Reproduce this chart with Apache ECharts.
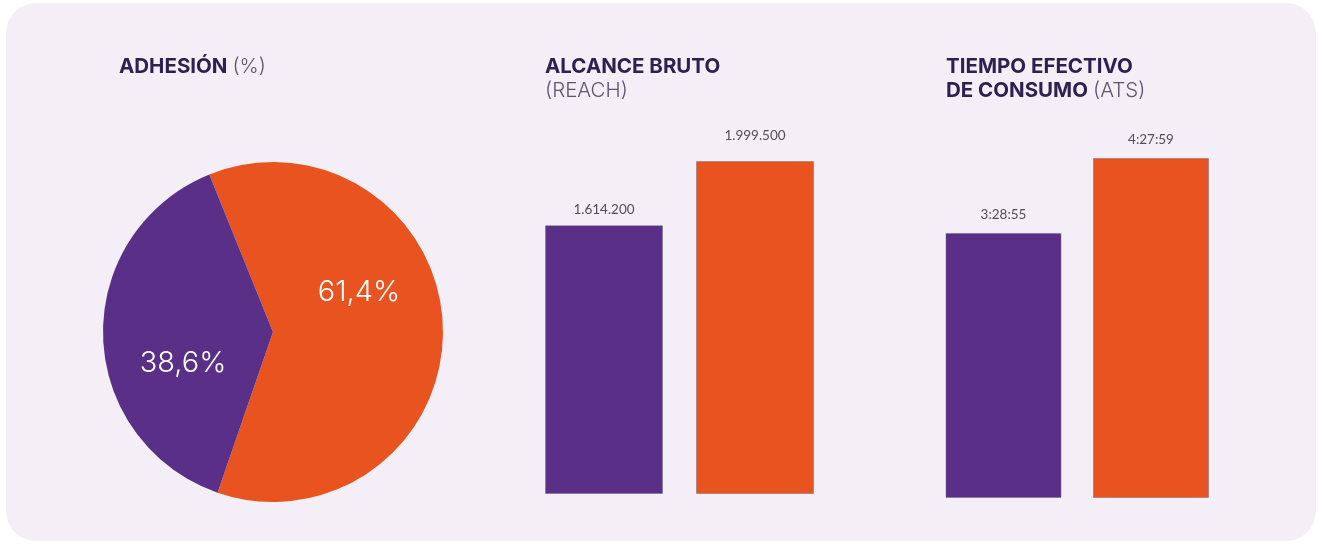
<!DOCTYPE html>
<html>
<head>
<meta charset="utf-8">
<script src="https://cdn.jsdelivr.net/npm/echarts@6/dist/echarts.min.js"></script>
<style>
    html, body { margin: 0; padding: 0; background: #ffffff; }
    #panel { position: absolute; left: 6px; top: 3px; width: 1310px; height: 538px; background: #f4eff6; border-radius: 30px; }
    #chart { position: absolute; left: 0; top: 0; width: 1318px; height: 544px; }
</style>
</head>
<body>
<div id="panel"></div>
<div id="chart"></div>
<script>

// adhesion (%)
var pieNames = ['Adhesión', 'Resto'];
var pieValues = [61.4, 38.6];

// alcance bruto (reach)
var reachCats = ['A', 'B'];
var reachValues = [1614200, 1999500];

// tiempo efectivo de consumo (ats)
var atsCats = ['A', 'B'];
var atsTimes = ['3:28:55', '4:27:59'];

(function() {

    // colours
    var purple = '#5a2f88',
        orange = '#e8531f',
        ink = '#2d2150',
        soft = '#5d5470',
        font = 'Inter',
        numFont = 'Lato';

    // h:mm:ss -> seconds
    var toSec = function( /* text */ t) {
        var p = t.split(':');
        return (+p[0]) * 3600 + (+p[1]) * 60 + (+p[2]);
    };

    var toTime = function( /* seconds */ s) {
        var h = Math.floor(s / 3600),
            m = Math.floor((s % 3600) / 60),
            x = s % 60;
        return h + ':' + (m < 10 ? '0' : '') + m + ':' + (x < 10 ? '0' : '') + x;
    };

    // 1614200 -> 1.614.200
    var dots = function( /* number */ n) {
        return String(n).replace(/\B(?=(\d{3})+(?!\d))/g, '.');
    };

    var atsValues = atsTimes.map(toSec);

    // title styles
    var rich = {
        b: { fontFamily: font, fontWeight: 'bold', fontSize: 20.5, color: ink, lineHeight: 24 },
        l: { fontFamily: font, fontWeight: 300, fontSize: 20.5, color: soft, lineHeight: 24 }
    };

    // bar label
    var barLabel = function(fmt, dist) {
        return {
            show: true,
            position: 'top',
            distance: dist,
            fontFamily: numFont,
            fontSize: 13.5,
            color: '#505050',
            formatter: fmt
        };
    };

    var option = {

        animation: false,
        backgroundColor: 'transparent',

        // titles
        title: [{
            left: 114, top: 50,
            text: '{b|ADHESIÓN} {l|(%)}',
            textStyle: { rich: rich }
        }, {
            left: 540, top: 50,
            text: '{b|ALCANCE BRUTO}\n{l|(REACH)}',
            textStyle: { rich: rich }
        }, {
            left: 941, top: 50,
            text: '{b|TIEMPO EFECTIVO}\n{b|DE CONSUMO} {l|(ATS)}',
            textStyle: { rich: rich }
        }],

        // grids
        grid: [
            { left: 528.5, width: 302, top: 161, height: 333 },
            { left: 929.75, width: 295, top: 117.4, height: 380.6 }
        ],

        xAxis: [
            { gridIndex: 0, type: 'category', data: reachCats, show: false },
            { gridIndex: 1, type: 'category', data: atsCats, show: false }
        ],

        yAxis: [
            { gridIndex: 0, type: 'value', min: 0, max: 2000000, show: false, splitLine: { show: false } },
            { gridIndex: 1, type: 'value', min: 0, max: 18000, show: false, splitLine: { show: false } }
        ],

        series: [{

            // pie
            type: 'pie',
            center: [273, 332],
            radius: 170,
            startAngle: 112,
            clockwise: true,
            silent: true,
            data: pieValues.map(function(v, i) {
                return { name: pieNames[i], value: v, itemStyle: { color: i ? purple : orange } };
            }),
            label: {
                show: true,
                position: 'inside',
                fontFamily: font,
                fontWeight: 300,
                fontSize: 29,
                color: '#ffffff',
                formatter: function(p) { return String(p.value).replace('.', ',') + '%'; }
            },
            labelLine: { show: false },
            labelLayout: function(p) {
                return { dx: p.dataIndex ? -2 : -2, dy: p.dataIndex ? 29 : -37 };
            }

        }, {

            // reach
            type: 'bar',
            xAxisIndex: 0,
            yAxisIndex: 0,
            barWidth: 118,
            data: reachValues.map(function(v, i) {
                return { value: v, itemStyle: { color: i ? orange : purple }, label: { distance: i ? 18 : 9 } };
            }),
            itemStyle: { borderColor: 'rgba(110,100,120,0.45)', borderWidth: 1 },
            label: barLabel(function(p) { return dots(p.value); }, 9)

        }, {

            // ats
            type: 'bar',
            xAxisIndex: 1,
            yAxisIndex: 1,
            barWidth: 116,
            data: atsValues.map(function(v, i) {
                return { value: v, itemStyle: { color: i ? orange : purple } };
            }),
            itemStyle: { borderColor: 'rgba(110,100,120,0.45)', borderWidth: 1 },
            label: barLabel(function(p) { return toTime(p.value); }, 11)

        }]

    };

    var chart = echarts.init(document.getElementById('chart'));
    chart.setOption(option);

}());

</script>
</body>
</html>
